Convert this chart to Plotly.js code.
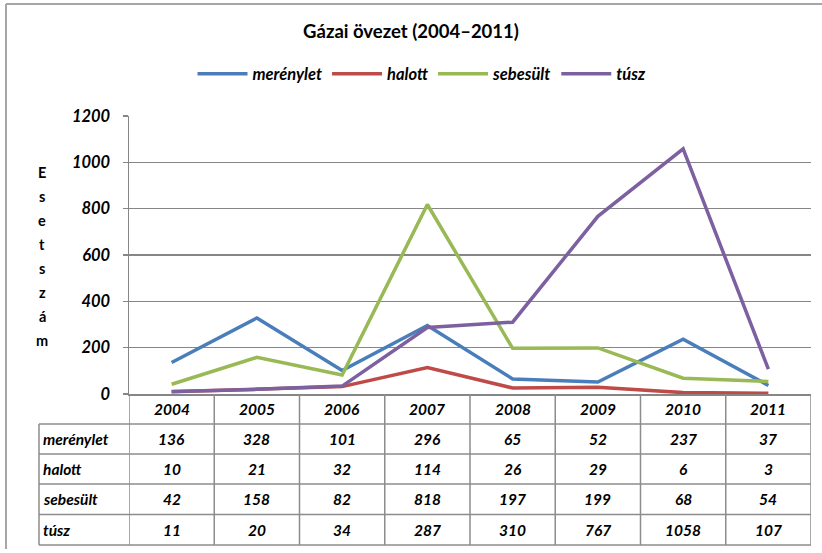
<!DOCTYPE html>
<html>
<head>
<meta charset="utf-8">
<script src="https://cdn.plot.ly/plotly-3.0.1.min.js"></script>
<style>html,body{margin:0;padding:0;background:#fff;}#chart{width:822px;height:553px;}</style>
</head>
<body>
<div id="chart"></div>
<script>
const years = ['2004','2005','2006','2007','2008','2009','2010','2011'];
const seriesNames = ['merénylet','halott','sebesült','túsz'];
const merenylet = [136, 328, 101, 296, 65, 52, 237, 37];
const halott = [10, 21, 32, 114, 26, 29, 6, 3];
const sebesult = [42, 158, 82, 818, 197, 199, 68, 54];
const tusz = [11, 20, 34, 287, 310, 767, 1058, 107];
const yTitle = 'Esetszám';

const seriesValues = [merenylet, halott, sebesult, tusz];
const colors = ['#4A7EBB', '#BE4B48', '#98B954', '#7D60A0'];

const W = 822, H = 553;
const L = 129, R = 811, T = 116, B = 394;
const FONT = 'Lato, Carlito, "Open Sans", sans-serif';
const px2x = x => (x - L) / (R - L);
const px2y = y => 1 - (y - T) / (B - T);
const gridCol = '#868686';
const tabCol = '#8c8c8c';

const xs = years.map((_, i) => i);
const traces = seriesValues.map((vals, k) => ({
  x: xs, y: vals, name: seriesNames[k], type: 'scatter', mode: 'lines',
  line: {color: colors[k], width: 3.5}
}));

const shapes = [];
const annotations = [];
// outer border (left and top)
shapes.push({type:'line', xref:'paper', yref:'paper', x0:px2x(6), x1:px2x(6), y0:px2y(4), y1:px2y(549), line:{color:'#a6a6a6', width:2}});
shapes.push({type:'line', xref:'paper', yref:'paper', x0:px2x(6), x1:px2x(822), y0:px2y(4), y1:px2y(4), line:{color:'#a6a6a6', width:2}});

// data table
const rowEdges = [394, 424, 454, 484, 514.5, 545];
for (let i = 0; i <= years.length; i++) {
  shapes.push({type:'line', xref:'x', yref:'paper', x0:i-0.5, x1:i-0.5, y0:px2y(394), y1:px2y(545), line:{color:tabCol, width:1.5}});
}
shapes.push({type:'line', xref:'paper', yref:'paper', x0:px2x(39), x1:px2x(39), y0:px2y(424), y1:px2y(545), line:{color:tabCol, width:1.5}});
for (let r = 1; r < rowEdges.length; r++) {
  shapes.push({type:'line', xref:'paper', yref:'paper', x0:px2x(39), x1:1, y0:px2y(rowEdges[r]), y1:px2y(rowEdges[r]), line:{color:tabCol, width:1.5}});
}
const cellFont = {family: FONT, size: 15.5, color: '#000', weight: 'bold', style: 'italic'};
years.forEach((yr, i) => {
  annotations.push({xref:'x', yref:'paper', x:i, y:px2y((rowEdges[0]+rowEdges[1])/2), text:yr, showarrow:false, font:cellFont, xanchor:'center', yanchor:'middle'});
});
seriesValues.forEach((vals, k) => {
  const yc = px2y((rowEdges[k+1] + rowEdges[k+2]) / 2);
  annotations.push({xref:'paper', yref:'paper', x:px2x(41), y:yc, text:seriesNames[k], showarrow:false, font:cellFont, xanchor:'left', yanchor:'middle'});
  vals.forEach((v, i) => {
    annotations.push({xref:'x', yref:'paper', x:i, y:yc, text:String(v), showarrow:false, font:cellFont, xanchor:'center', yanchor:'middle'});
  });
});

// stacked vertical y-axis title
Array.from(yTitle).forEach((ch, i) => {
  annotations.push({xref:'paper', yref:'paper', x:px2x(42), y:px2y(172 + 24*i), text:ch, showarrow:false,
    font:{family: FONT, size: 14.5, color:'#000', weight:'bold'}, xanchor:'center', yanchor:'middle'});
});

const layout = {
  width: W, height: H,
  margin: {l: L, r: W - R, t: T, b: H - B, pad: 0},
  paper_bgcolor: '#fff', plot_bgcolor: '#fff',
  showlegend: true,
  title: {text: 'Gázai övezet (2004–2011)', x: 0.5, xref: 'container', xanchor: 'center',
    y: 1 - 32/H, yref: 'container', yanchor: 'middle',
    font: {family: FONT, size: 18.5, color: '#000', weight: 'bold'}},
  legend: {orientation: 'h', xref: 'container', yref: 'container', x: 422/W, xanchor: 'center',
    y: 1 - 74/H, yanchor: 'middle', font: {family: FONT, size: 16.5, color: '#000', weight: 'bold', style: 'italic'},
    itemwidth: 50, tracegroupgap: 0, bgcolor: 'rgba(0,0,0,0)'},
  xaxis: {range: [-0.5, years.length - 0.5], showticklabels: false, showgrid: false, zeroline: false,
    showline: true, linecolor: gridCol, linewidth: 1.5, ticks: '', fixedrange: true},
  yaxis: {range: [0, 1200], dtick: 200, tick0: 0, showgrid: true, gridcolor: gridCol, gridwidth: 1.2,
    zeroline: false, showline: true, linecolor: gridCol, linewidth: 1.5,
    ticks: 'outside', ticklen: 5, tickcolor: gridCol, tickwidth: 1.2, ticklabelstandoff: 9,
    tickfont: {family: FONT, size: 16.5, color: '#000', weight: 'bold', style: 'italic'}, fixedrange: true},
  shapes: shapes,
  annotations: annotations
};

Plotly.newPlot('chart', traces, layout, {displayModeBar: false, staticPlot: true});
</script>
</body>
</html>
